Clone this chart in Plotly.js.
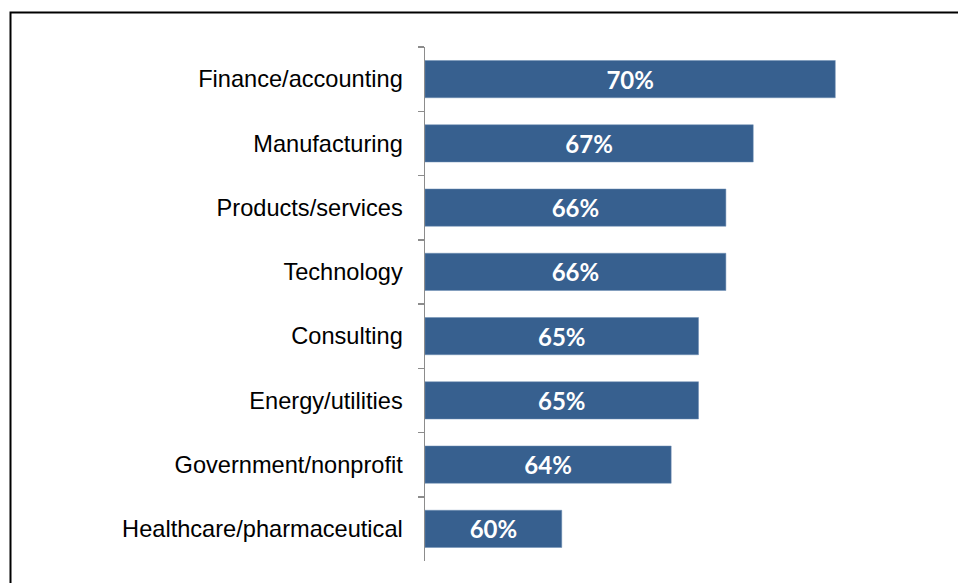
<!DOCTYPE html>
<html>
<head>
<meta charset="utf-8">
<script src="https://cdn.plot.ly/plotly-3.0.1.min.js"></script>
<style>html,body{margin:0;padding:0;background:#fff;}#chart{width:958px;height:583px;}</style>
</head>
<body>
<div id="chart"></div>
<script>
const categories = ["Finance/accounting","Manufacturing","Products/services","Technology","Consulting","Energy/utilities","Government/nonprofit","Healthcare/pharmaceutical"];
const values = [70, 67, 66, 66, 65, 65, 64, 60];
const valueLabels = ["70%","67%","66%","66%","65%","65%","64%","60%"];
const axisStart = 55;
const axisEnd = 72;

const W = 958, H = 583;
const mL = 425, mR = 68, mT = 47, mB = 22;
const pw = W - mL - mR, ph = H - mT - mB;
function px2x(p){ return (p - mL) / pw; }
function py2y(p){ return 1 - (p - mT) / ph; }

const trace = {
  type: 'bar',
  orientation: 'h',
  y: categories,
  x: values.map(v => v - axisStart),
  base: axisStart,
  text: valueLabels,
  textposition: 'inside',
  insidetextanchor: 'middle',
  textangle: 0,
  constraintext: 'none',
  textfont: {family: 'Lato, "Open Sans", sans-serif', size: 24, color: '#ffffff', weight: 'bold'},
  marker: {color: '#37608f', line: {color: '#6f8fb4', width: 0.5}},
  width: 0.58,
  hoverinfo: 'none',
  cliponaxis: false
};

const layout = {
  width: W, height: H,
  margin: {l: mL, r: mR, t: mT, b: mB, pad: 0},
  paper_bgcolor: '#ffffff',
  plot_bgcolor: '#ffffff',
  showlegend: false,
  xaxis: {range: [axisStart, axisEnd], visible: false, fixedrange: true},
  yaxis: {
    type: 'category',
    autorange: 'reversed',
    showline: true, linecolor: '#8c8c8c', linewidth: 1.5,
    ticks: 'outside', tickson: 'boundaries', ticklen: 6, tickcolor: '#8c8c8c', tickwidth: 1.5,
    showgrid: false, zeroline: false,
    tickfont: {family: 'Arial, "Liberation Sans", sans-serif', size: 23.6, color: '#000000'},
    ticklabelstandoff: 16,
    fixedrange: true
  },
  shapes: [{
    type: 'rect', xref: 'paper', yref: 'paper',
    x0: px2x(10.5), x1: px2x(W + 20), y0: py2y(H + 20), y1: py2y(12.5),
    line: {color: '#000000', width: 2}, fillcolor: 'rgba(0,0,0,0)', layer: 'above'
  }],
  bargap: 0.42
};

Plotly.newPlot('chart', [trace], layout, {displayModeBar: false, staticPlot: true});
</script>
</body>
</html>
